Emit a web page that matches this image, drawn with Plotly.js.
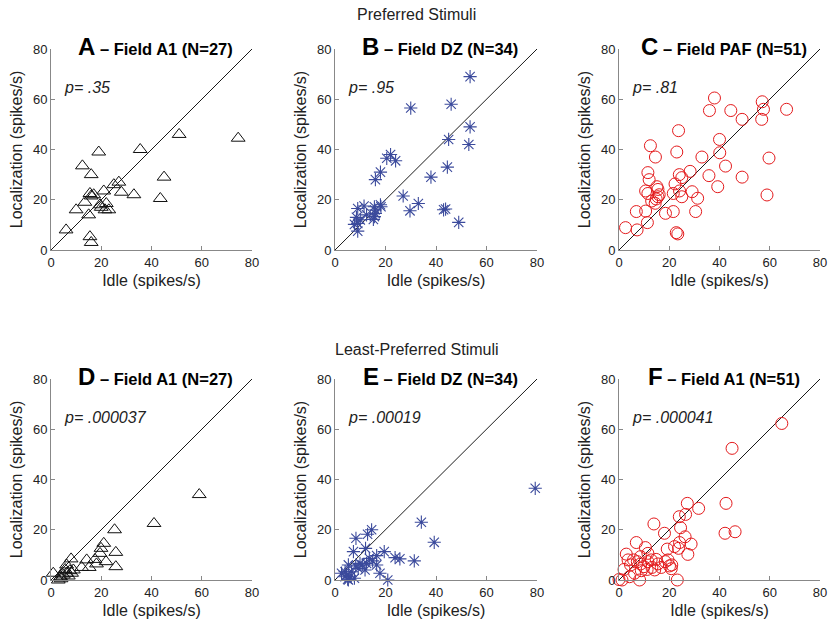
<!DOCTYPE html>
<html>
<head>
<meta charset="utf-8">
<script src="https://cdn.plot.ly/plotly-3.0.1.min.js"></script>
<style>html,body{margin:0;padding:0;background:#fff;}#chart{width:830px;height:628px;}</style>
</head>
<body>
<div id="chart"></div>
<script>
// ---- Data (Idle vs Localization, spikes/s) ----
const aIdle = [51,74.5,35.5,19,12.5,16,45,27,25,28,21,33,43.5,15.5,16,13.5,22,20,21.5,10,15,6,15.5,16,23,19.5,17];
const aLoc  = [46,44.5,40,39,33.5,30,29,27,26,23,23.5,22,20.5,22.5,21.5,19,18.5,17,16,16,14,8,5.3,3,16,18,22];

const bIdle = [53.5,30,46,53.5,45,53,22,20.5,24,44.5,18,16,38,27,33,29.7,43,43.8,49,18,18.2,15.6,11.5,9,12.5,15.6,15.2,8.5,7.7,9,9,15.8,10,16];
const bLoc  = [69,56.5,58,49,44,42,38,36.5,35.5,33,31,28,29,21.5,18.5,15.6,16,16.3,11,18,17.2,17.2,17.5,16.5,14,13.3,12.2,13,10.2,10.6,7.5,15.9,12,14.5];

const cIdle = [38,57,36,44.5,66.7,57.5,49,56.8,23.7,40,12.5,40.1,23,14.5,33,59.7,42.4,28.3,11.5,35.8,49,24,25,12,22.3,39.3,15.1,15.5,10.6,11.5,21.6,24.1,29.1,15.5,14.8,25,31.3,58.9,14.4,10.6,6.9,18.5,21.6,30.5,11.3,2.6,7.2,22.8,23.4,16,13];
const cLoc  = [60.5,59,55.5,55.5,56,56,52,52,47.5,44,41.5,38.7,39,37,37,36.6,33.4,31.3,30.8,29.6,29,30,28.8,28,26.3,25.2,25.2,24.1,23.5,22.5,22.5,23.5,23.2,21.2,20.3,21.2,20.6,21.9,18.6,15.5,15.3,14.6,15.3,15.3,10.9,8.9,8,6.9,6.4,22,19.5];

const dIdle = [59,41,25.3,21,19.9,25.8,19.5,17.5,14.2,8,21.9,25.8,18.1,15.2,12.2,6.2,5.6,7.5,8.2,6.2,4.9,3.8,0.9,2.9,4,8.9,6.9];
const dLoc  = [34,22.5,20,14.6,12.6,11,10.6,8.2,8,8.4,7.3,5.3,6.4,5,5,6,4.2,3.7,2.7,2.7,2,1.3,2.7,0,0.5,4,1.6];

const eIdle = [79.3,34.2,39.3,14.5,12.9,8.3,12.1,7.3,19.5,23.8,25.7,31.4,16.5,13.6,14.9,9.9,10.8,11.9,16.5,17.8,20.9,5.3,4,2.6,4.6,5.3,5.9,7.7,6.6,9.2,8.2,12.5,4,5];
const eLoc  = [36.5,23,15,20,18.2,16.6,12.6,11.3,11.3,8.9,8.4,7.6,9.7,8.6,7.6,6.6,6,4,6,2.7,0,6,3.3,2.7,2,0,1.3,0.7,3.3,4.6,5.6,6.6,1.3,0.3];

const fIdle = [64.8,45,27.2,31.7,42.6,26.5,24,13.9,18.1,24.5,42.2,46.2,26.3,6.9,10.5,24.1,28.7,22.1,19.2,23.7,27.4,2.9,5.8,8.6,11.5,14.8,19.5,11.5,9.9,11.2,13.1,16.8,20.1,20.8,2,6.2,4.2,1.2,0,8.2,23.2,8.6,15.5,18.4,7.3,12.8,3.6,14.2,8.9,4.6,21];
const fLoc  = [62.3,52.4,30.5,28.5,30.5,26.1,25.2,22.3,18.6,20.8,18.6,19.2,17.2,14.9,12.9,14.9,14.3,13.3,12.3,12.6,10.2,10.3,8,9.3,10.6,8.2,8,7.3,5.3,4.2,5,5,5.6,4.5,4.2,2.7,1.3,0,0.2,0,0,6.4,6.4,7.3,7.3,8,8,4,3.7,6,6];

const diagX = [0, 80];
const diagY = [0, 80];
const tickVals = [0, 20, 40, 60, 80];

const titles = ['A', 'B', 'C', 'D', 'E', 'F'];
const fields = ['Field A1 (N=27)', 'Field DZ (N=34)', 'Field PAF (N=51)', 'Field A1 (N=27)', 'Field DZ (N=34)', 'Field A1 (N=51)'];
const pTexts = ['p= .35', 'p= .95', 'p= .81', 'p= .000037', 'p= .00019', 'p= .000041'];
const rowTitles = ['Preferred Stimuli', 'Least-Preferred Stimuli'];

// ---- Styles ----
const triStyle = {symbol: 'triangle-up-open', size: 12, color: '#111', line: {width: 1, color: '#111'}};
const starStyle = {symbol: 'asterisk-open', size: 11, color: '#3b4a9c', line: {width: 1.1, color: '#3b4a9c'}};
const circStyle = {symbol: 'circle-open', size: 12, color: '#e41a1c', line: {width: 1, color: '#e41a1c'}};

const series = [
  [aIdle, aLoc, triStyle], [bIdle, bLoc, starStyle], [cIdle, cLoc, circStyle],
  [dIdle, dLoc, triStyle], [eIdle, eLoc, starStyle], [fIdle, fLoc, circStyle]
];

const W = 830, H = 628;
const xDoms = [[51, 252], [335, 537], [619, 820]];
const yDoms = [[49, 250], [379, 580]];
const font = "'Liberation Sans Narrow', 'Liberation Sans', Arial, sans-serif";

const traces = [];
const layout = {
  width: W, height: H,
  margin: {l: 0, r: 0, t: 0, b: 0},
  paper_bgcolor: '#fff', plot_bgcolor: '#fff',
  showlegend: false,
  font: {family: font, size: 13, color: '#222'},
  title: {text: rowTitles[0], x: 0.502, xanchor: 'center', y: 1 - 14 / H, yanchor: 'middle', yref: 'paper',
          font: {family: font, size: 16, color: '#222'}},
  annotations: [
    {text: rowTitles[1], xref: 'paper', yref: 'paper', x: 0.502, y: 1 - 349 / H, showarrow: false,
     xanchor: 'center', yanchor: 'middle', font: {family: font, size: 16, color: '#222'}}
  ]
};

for (let i = 0; i < 6; i++) {
  const r = Math.floor(i / 3), c = i % 3;
  const n = i + 1;
  const xa = 'x' + (n === 1 ? '' : n), ya = 'y' + (n === 1 ? '' : n);
  const xk = 'xaxis' + (n === 1 ? '' : n), yk = 'yaxis' + (n === 1 ? '' : n);
  traces.push({x: diagX, y: diagY, xaxis: xa, yaxis: ya, mode: 'lines', line: {color: '#000', width: 0.9}, hoverinfo: 'skip'});
  const s = series[i];
  traces.push({x: s[0], y: s[1], xaxis: xa, yaxis: ya, mode: 'markers', type: 'scatter', marker: s[2], cliponaxis: false});
  const axBase = {
    range: [0, 80], tickvals: tickVals, ticks: 'inside', ticklen: 4, tickcolor: '#888', tickwidth: 1,
    showline: true, linecolor: '#888', linewidth: 1, showgrid: false, zeroline: false,
    tickfont: {family: font, size: 13, color: '#222'}, fixedrange: true
  };
  layout[xk] = Object.assign({}, axBase, {
    domain: [xDoms[c][0] / W, xDoms[c][1] / W], anchor: ya,
    title: {text: 'Idle (spikes/s)', standoff: 6, font: {family: font, size: 16, color: '#222'}}
  });
  layout[yk] = Object.assign({}, axBase, {
    domain: [1 - yDoms[r][1] / H, 1 - yDoms[r][0] / H], anchor: xa,
    title: {text: 'Localization (spikes/s)', standoff: 6, font: {family: font, size: 16, color: '#222'}}
  });
  layout.annotations.push({
    text: '<b><span style="font-size:24px">' + titles[i] + '</span> – ' + fields[i] + '</b>',
    xref: xa + ' domain', yref: ya + ' domain', x: 0.52, y: 1.01, xanchor: 'center', yanchor: 'middle',
    showarrow: false, font: {family: 'Liberation Sans, Arial, sans-serif', size: 16.5, color: '#000'}
  });
  layout.annotations.push({
    text: '<i>' + pTexts[i] + '</i>', xref: xa, yref: ya, x: 4.5, y: 64.5, xanchor: 'left', yanchor: 'middle',
    showarrow: false, font: {family: 'Liberation Sans, Arial, sans-serif', size: 16, color: '#222'}
  });
}

Plotly.newPlot('chart', traces, layout, {staticPlot: true, displayModeBar: false});
</script>
</body>
</html>
